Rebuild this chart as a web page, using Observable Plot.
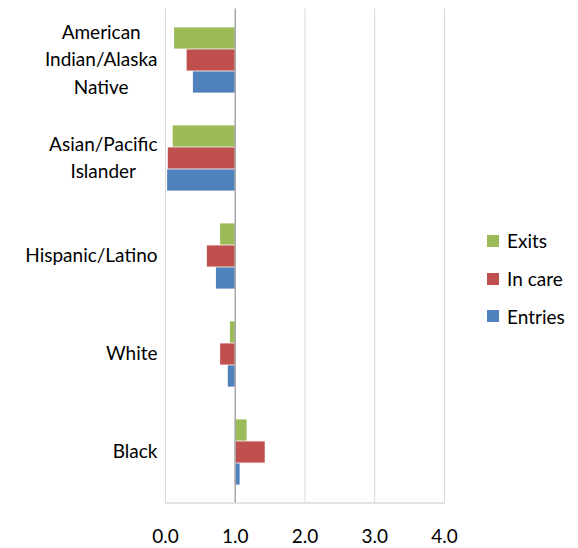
<!DOCTYPE html>
<html>
<head>
<meta charset="utf-8">
<script src="https://cdn.jsdelivr.net/npm/d3@7"></script>
<script src="https://cdn.jsdelivr.net/npm/@observablehq/plot@0.6"></script>
<style>
  body { margin: 0; background: #fff; }
  #wrap { position: relative; width: 578px; height: 548px; font-family: Lato, "Open Sans", sans-serif; }
  #legend { position: absolute; left: 487px; top: 222px; font-size: 19px; color: #000; }
  #legend .item { display: flex; align-items: center; height: 37.7px; }
  #legend .sw { width: 12px; height: 12px; margin-right: 8px; }
</style>
</head>
<body>
<div id="wrap"><div id="chart"></div><div id="legend"></div></div>
<script>
const categories = ["American Indian/Alaska Native", "Asian/Pacific Islander", "Hispanic/Latino", "White", "Black"];
const categoryLines = [["American", "Indian/Alaska", "Native"], ["Asian/Pacific", "Islander"], ["Hispanic/Latino"], ["White"], ["Black"]];
const series = ["Exits", "In care", "Entries"];
const exits = [0.13, 0.11, 0.79, 0.93, 1.17];
const inCare = [0.31, 0.04, 0.60, 0.79, 1.43];
const entries = [0.40, 0.03, 0.73, 0.90, 1.07];
const xTicks = [0, 1, 2, 3, 4];
const colors = ["#9BBB59", "#C0504D", "#4F81BD"];

const values = [exits, inCare, entries];
const data = [];
series.forEach((s, i) => categories.forEach((c, j) => data.push({series: s, category: c, value: values[i][j]})));

const W = 578, H = 548, mt = 8.5, mb = 45.5, ml = 165, mr = 134;
const fontSize = 19;
const font = `${fontSize}px Lato`;
const band = (H - mt - mb) / categories.length;
const barH = 22;

const ctx = document.createElement("canvas").getContext("2d");
ctx.font = font;
const widthOf = (lines) => Math.max(...lines.map(l => ctx.measureText(l).width));

const barMarks = series.map((s, i) => {
  const top = band / 2 - 1.5 * barH + i * barH;
  return Plot.barX(data.filter(d => d.series === s), {
    y: "category", x1: 1, x2: "value", fill: colors[i],
    insetTop: top, insetBottom: band - top - barH
  });
});

const labelMarks = categories.map((c, j) => Plot.text([c], {
  y: d => d, text: () => categoryLines[j].join("\n"),
  frameAnchor: "left", textAnchor: "middle",
  dx: -8 - widthOf(categoryLines[j]) / 2, dy: -3,
  lineHeight: 27.5 / fontSize, fill: "#000"
}));

const chart = Plot.plot({
  width: W, height: H,
  marginTop: mt, marginBottom: mb, marginLeft: ml, marginRight: mr,
  style: {fontFamily: "Lato", fontSize: fontSize + "px", background: "#fff", overflow: "visible"},
  x: {domain: [0, 4], axis: null},
  y: {domain: categories, padding: 0, axis: null},
  marks: [
    Plot.ruleX([0, 2, 3, 4], {stroke: "#d9d9d9", strokeWidth: 1}),
    Plot.frame({anchor: "bottom", stroke: "#c8c8c8"}),
    ...barMarks,
    Plot.ruleX([1], {stroke: "#a6a6a6", strokeWidth: 1.5}),
    Plot.axisX(xTicks, {tickSize: 0, tickPadding: 26, label: null, tickFormat: d3.format(".1f"), fontSize: fontSize, fill: "#000"}),
    ...labelMarks
  ]
});
document.getElementById("chart").appendChild(chart);

const legend = document.getElementById("legend");
series.forEach((s, i) => {
  const item = document.createElement("div");
  item.className = "item";
  item.innerHTML = `<span class="sw" style="background:${colors[i]}"></span><span>${s}</span>`;
  legend.appendChild(item);
});
</script>
</body>
</html>
